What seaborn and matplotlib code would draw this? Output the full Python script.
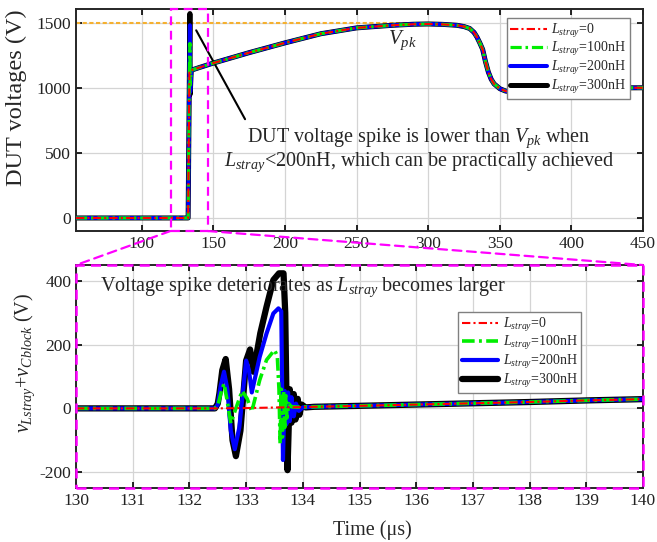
import numpy as np
import pandas as pd
import matplotlib.pyplot as plt
import seaborn as sns
from matplotlib.patches import Rectangle, ConnectionPatch
import matplotlib.transforms as mtransforms

# %% data
labels = [r'$L_{stray}$=0', r'$L_{stray}$=100nH', r'$L_{stray}$=200nH', r'$L_{stray}$=300nH']

# top panel: DUT voltage, common waveform + spike peak/trough per L_stray
top_t = [54, 132.3, 133.2, 133.55, 133.75, 134.5, 140, 150, 175, 200, 225, 250, 275, 290, 300,
         310, 320, 325, 329, 332, 334, 336, 338, 340, 342, 344, 346, 350, 354, 357, 362, 370,
         385, 400, 450]
top_base = [0, 0, 1130, 1130, 1130, 1135, 1155, 1190, 1270, 1345, 1415, 1460, 1480, 1488, 1490,
            1487, 1480, 1470, 1455, 1425, 1390, 1345, 1295, 1200, 1120, 1065, 1030, 993, 975, 970,
            975, 988, 995, 998, 1000]
spike_peak = [1130, 1340, 1480, 1570]
spike_trough = [1130, 1020, 970, 950]
vpk_t = [54, 300]
vpk_v = [1495, 1495]

# bottom panel: v_Lstray + v_Cblock
head_t = [130, 132.45]
head_v = [0, 0]
tail_t = [134.2, 135, 136, 137, 138, 139, 140]
tail_v = [5, 8, 12, 16, 20, 25, 29]

red_t = [133.0, 133.6, 134.0]
red_v = [1, 3, 4]
green_t = [132.5, 132.56, 132.61, 132.66, 132.73, 132.82, 132.93, 133.02, 133.1, 133.24, 133.36,
           133.5, 133.55, 133.58, 133.60, 133.62, 133.64, 133.66, 133.68, 133.70, 133.72, 133.75,
           133.8, 133.9]
green_v = [8, 50, 78, 30, -47, 0, 55, 30, -10, 89, 152, 183, 165, 60, -110, 60, -90, 55, -60, 40,
           -30, 15, 5, 4]
blue_t = [132.5, 132.55, 132.61, 132.67, 132.73, 132.80, 132.88, 133.0, 133.05, 133.1, 133.24,
          133.36, 133.48, 133.57, 133.62, 133.65, 133.68, 133.71, 133.74, 133.77, 133.80, 133.84,
          133.88, 133.93, 134.0]
blue_v = [12, 70, 115, 60, -70, -128, -60, 150, 120, 50, 162, 235, 298, 314, 305, -162, 55, -50,
          50, -40, 35, -25, 15, -8, 3]
black_t = [132.5, 132.53, 132.58, 132.64, 132.70, 132.76, 132.82, 132.9, 133.0, 133.07, 133.13,
           133.25, 133.36, 133.48, 133.58, 133.66, 133.69, 133.73, 133.77, 133.80, 133.84, 133.87,
           133.91, 133.94, 133.98, 134.05]
black_v = [15, 48, 120, 155, 60, -100, -150, -70, 150, 185, 115, 236, 319, 403, 424, 424, 300,
           -194, 60, -45, 45, -35, 30, -20, 12, 3]

bottom_t = [red_t, green_t, blue_t, black_t]
bottom_v = [red_v, green_v, blue_v, black_v]

# %% style
sns.set_style('ticks')
plt.rcParams['font.family'] = ['Liberation Serif', 'DejaVu Serif']
plt.rcParams['mathtext.fontset'] = 'custom'
plt.rcParams['mathtext.rm'] = 'Liberation Serif'
plt.rcParams['mathtext.it'] = 'Liberation Serif:italic'
plt.rcParams['axes.linewidth'] = 1.4
plt.rcParams['axes.unicode_minus'] = False
plt.rcParams['xtick.direction'] = 'in'
plt.rcParams['ytick.direction'] = 'in'

colors = ['#ff0000', '#00ee00', '#0000ff', '#000000']
lws = [1.5, 2.3, 2.9, 3.6]
styles = [(0, (4, 1.5, 1, 1.5)), (0, (3.5, 1.2, 0.8, 1.2)), '-', '-']
magenta = '#ff00ff'

fig = plt.figure(figsize=(6.57, 5.42), dpi=100)
ax1 = fig.add_axes([0.1157, 0.5738, 0.863, 0.4096])
ax2 = fig.add_axes([0.1157, 0.0996, 0.863, 0.4114])

# %% top
sns.lineplot(x=vpk_t, y=vpk_v, ax=ax1, color='#f5b030', lw=1.5, linestyle=(0, (2, 1.2)),
             estimator=None, sort=False, zorder=1)
for i in range(4)[::-1]:
    v = top_base[:3] + [spike_peak[i], spike_trough[i]] + top_base[5:]
    sns.lineplot(x=top_t, y=v, ax=ax1, color=colors[i], lw=lws[i], linestyle=styles[i],
                 estimator=None, sort=False, label=labels[i], zorder=2 + (3 - i))

ax1.set_xlim(54, 450)
ax1.set_ylim(-100, 1605)
ax1.set_xticks(np.arange(100, 451, 50))
ax1.set_yticks([0, 500, 1000, 1500])
ax1.set_ylabel('DUT voltages (V)', fontsize=17.5)
ax1.yaxis.set_label_coords(-0.086, 0.6)

ax1.annotate('', xy=(137, 1460), xytext=(173, 740),
             arrowprops=dict(arrowstyle='-', color='k', lw=1.5))
ax1.text(0.605, 0.365, 'DUT voltage spike is lower than $V_{pk}$ when\n'
         '$L_{stray}$<200nH, which can be practically achieved',
         transform=ax1.transAxes, ha='center', va='center', fontsize=14.5, linespacing=1.05)
ax1.text(281.6, 1367, '$V_{pk}$', fontsize=15, ha='center', va='center')

# zoom window on top panel
trans = mtransforms.blended_transform_factory(ax1.transData, ax1.transAxes)
ax1.add_patch(Rectangle((120, 0), 26, 1, transform=trans, fill=False, edgecolor=magenta,
                        lw=1.6, linestyle=(0, (4, 2.5)), clip_on=False, zorder=10))

# %% bottom
for i in range(4)[::-1]:
    t = head_t + bottom_t[i] + tail_t
    v = head_v + bottom_v[i] + tail_v
    lw = [1.5, 2.6, 3.0, 4.5][i]
    sns.lineplot(x=t, y=v, ax=ax2, color=colors[i], lw=lw, linestyle=styles[i],
                 estimator=None, sort=False, label=labels[i], zorder=2 + (3 - i))

ax2.set_xlim(130, 140)
ax2.set_ylim(-250, 450)
ax2.set_xticks(np.arange(130, 141, 1))
ax2.set_yticks([-200, 0, 200, 400])
ax2.set_xlabel('Time (μs)', fontsize=14.5)
ax2.xaxis.set_label_coords(0.522, -0.143)
ax2.set_ylabel('$v_{Lstray}$+$v_{Cblock}$ (V)', fontsize=14.5)
ax2.yaxis.set_label_coords(-0.069, 0.56)
ax2.text(0.042, 0.9, 'Voltage spike deteriorates as $L_{stray}$ becomes larger',
         transform=ax2.transAxes, ha='left', va='center', fontsize=14.5)
ax2.add_patch(Rectangle((0, 0), 1, 1, transform=ax2.transAxes, fill=False, edgecolor=magenta,
                        lw=1.8, linestyle=(0, (4, 2.5)), clip_on=False, zorder=10))

for xa, xb in [(120, 0), (146, 1)]:
    con = ConnectionPatch(xyA=(xa, 0), coordsA=trans, xyB=(xb, 1), coordsB=ax2.transAxes,
                          color=magenta, lw=1.6, linestyle=(0, (4, 2.5)))
    fig.add_artist(con)

for ax in (ax1, ax2):
    ax.grid(True, color='#d4d4d4', lw=0.9)
    ax.tick_params(labelsize=12.5, length=4.5, width=1.2, top=True, right=True, colors='k')
    ax.tick_params(axis='both', labelcolor='#222222')
    h, l = ax.get_legend_handles_labels()
    order = [l.index(x) for x in labels]
    anchor = (0.760, 0.959) if ax is ax1 else (0.674, 0.789)
    ax.legend([h[k] for k in order], labels, loc='upper left', bbox_to_anchor=anchor,
              fontsize=10, frameon=True, fancybox=False, framealpha=1, edgecolor='#808080',
              handlelength=2.6, handletextpad=0.35, labelspacing=0.05, borderpad=0.25,
              borderaxespad=0)

fig.savefig('out.png', dpi=100)
